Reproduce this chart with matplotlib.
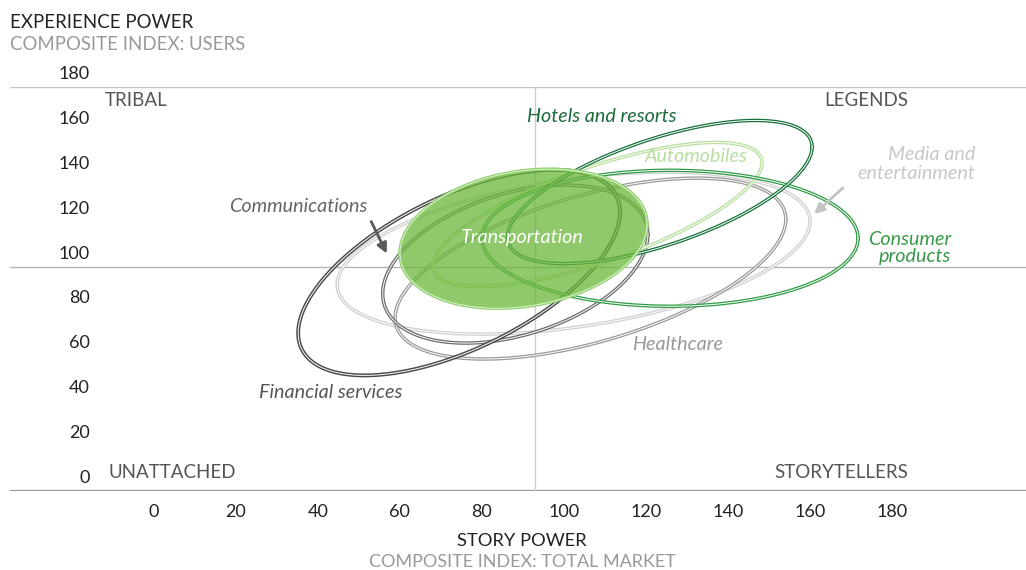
import numpy as np
import matplotlib
matplotlib.use("Agg")
import matplotlib.pyplot as plt
import matplotlib.transforms as mtransforms

plt.rcParams['font.family'] = ['Lato', 'DejaVu Sans']

# industries: centre on both indexes, spread on both indexes, tilt of the ellipse
industries = ['Media and entertainment', 'Healthcare', 'Communications', 'Financial services',
              'Automobiles', 'Consumer products', 'Hotels and resorts', 'Transportation']
center_x = [109.4, 113.5, 95.2, 81.5, 115.2, 132.9, 130.4, 97.2]
center_y = [106.0, 99.1, 101.1, 97.3, 123.2, 112.6, 133.2, 112.4]
spread_x = [57.6, 47.6, 32.3, 39.2, 40.1, 45.8, 37.1, 30.1]
spread_y = [36.1, 40.3, 35.2, 45.8, 32.1, 30.3, 31.9, 31.0]
tilt_deg = [67, 57, 68, 54, 44, 90, 51, 78]
line_colors = ['#cfcfcf', '#9a9a9a', '#6b6b6b', '#4a4a4a',
               '#b9df9f', '#2f9b47', '#17703a', '#8fcf6a']

x_ticks = [0, 20, 40, 60, 80, 100, 120, 140, 160, 180]
y_ticks = [0, 20, 40, 60, 80, 100, 120, 140, 160, 180]
split_x = 100
split_y = 100

W, H = 1026, 570
fig = plt.figure(figsize=(W / 100, H / 100), dpi=100)


def fx(px):
    return px / W


def fy(py):
    return 1 - py / H


ax = fig.add_axes([fx(10), fy(491), fx(1016), 404 / H])
ax.set_xlim((10 - 124.5) / 4.105, (1026 - 124.5) / 4.105)
ax.set_ylim(0, 180)
ax.axis('off')

# quadrant grid
ax.axhline(180, color='#c4c4c4', lw=1.0, zorder=0)
ax.axhline(split_y, color='#b4b4b4', lw=1.0, zorder=0)
ax.axhline(0, color='#999999', lw=1.6, zorder=0)
ax.plot([split_x, split_x], [0, 180], color='#cccccc', lw=1.0, zorder=0)

# ellipses, double lines
t = np.linspace(0, 2 * np.pi, 500)
for i, name in enumerate(industries):
    phi = np.radians(tilt_deg[i])
    xs = center_x[i] + spread_x[i] * np.cos(t)
    ys = center_y[i] + spread_y[i] * np.cos(t - phi)
    if name == 'Transportation':
        ax.fill(xs, ys, color='#6ab73a', alpha=0.75, lw=0, zorder=5)
        ax.plot(xs, ys, color=line_colors[i], lw=2.4, zorder=6)
        ax.plot(xs, ys, color='white', lw=0.6, alpha=0.8, zorder=6)
    else:
        lw = 2.8 if name == 'Financial services' else 2.5
        ax.plot(xs, ys, color=line_colors[i], lw=lw, zorder=2 + i * 0.1, solid_capstyle='round')
        ax.plot(xs, ys, color='white', lw=0.7, zorder=2 + i * 0.1 + 0.05)

# tick labels, drawn slightly off their lines like the original
ylab_tr = mtransforms.blended_transform_factory(ax.transAxes, ax.transData) + \
    mtransforms.ScaledTranslation(0, 0.13, fig.dpi_scale_trans)
for v in y_ticks:
    ax.text((90 - 10) / 1016, v, str(v), transform=ylab_tr, ha='right', va='center',
            fontsize=13, color='#222222')
xlab_tr = mtransforms.blended_transform_factory(ax.transData, ax.transAxes) + \
    mtransforms.ScaledTranslation(0.29, -0.21, fig.dpi_scale_trans)
for v in x_ticks:
    ax.text(v, 0, str(v), transform=xlab_tr, ha='center', va='center',
            fontsize=13, color='#222222')

# axis titles
fig.text(fx(10), fy(22), 'EXPERIENCE POWER', fontsize=13.4, color='#222222', va='center')
fig.text(fx(10), fy(45), 'COMPOSITE INDEX: USERS', fontsize=13.4, color='#999999', va='center')
fig.text(fx(522), fy(541), 'STORY POWER', fontsize=13.2, color='#222222', ha='center', va='center')
fig.text(fx(522), fy(562), 'COMPOSITE INDEX: TOTAL MARKET', fontsize=13, color='#999999',
         ha='center', va='center')

# quadrant names
quad = dict(fontsize=13.5, color='#555555', va='center')
fig.text(fx(105), fy(101), 'TRIBAL', ha='left', **quad)
fig.text(fx(908), fy(101), 'LEGENDS', ha='right', **quad)
fig.text(fx(108), fy(472), 'UNATTACHED', ha='left', **quad)
fig.text(fx(908), fy(472), 'STORYTELLERS', ha='right', **quad)

# industry labels
lab = dict(fontsize=14.2, style='italic', va='center', zorder=10)
fig.text(fx(527), fy(116), 'Hotels and resorts', color='#1d6b3a', ha='left', **lab)
fig.text(fx(645), fy(157), 'Automobiles', color='#b8dea0', ha='left', **lab)
fig.text(fx(975), fy(164), 'Media and\nentertainment', color='#c8c8c8', ha='right',
         linespacing=1.15, **lab)
fig.text(fx(951), fy(248), 'Consumer\nproducts', color='#3a9a4a', ha='right',
         linespacing=1.05, **lab)
fig.text(fx(522), fy(237), 'Transportation', color='white', ha='center', **lab)
fig.text(fx(367), fy(207), 'Communications', color='#666666', ha='right', **lab)
fig.text(fx(259), fy(392), 'Financial services', color='#555555', ha='left', **lab)
fig.text(fx(632), fy(344), 'Healthcare', color='#999999', ha='left', **lab)

# pointer arrows
fig.add_artist(matplotlib.patches.FancyArrowPatch(
    (fx(370), fy(219)), (fx(388), fy(256)), transform=fig.transFigure,
    arrowstyle='-|>,head_length=6,head_width=3', color='#5a5a5a', lw=2))
fig.add_artist(matplotlib.patches.FancyArrowPatch(
    (fx(845), fy(186)), (fx(812), fy(216)), transform=fig.transFigure,
    arrowstyle='-|>,head_length=6,head_width=3', color='#c4c4c4', lw=2))

fig.savefig('out.png', dpi=100)
